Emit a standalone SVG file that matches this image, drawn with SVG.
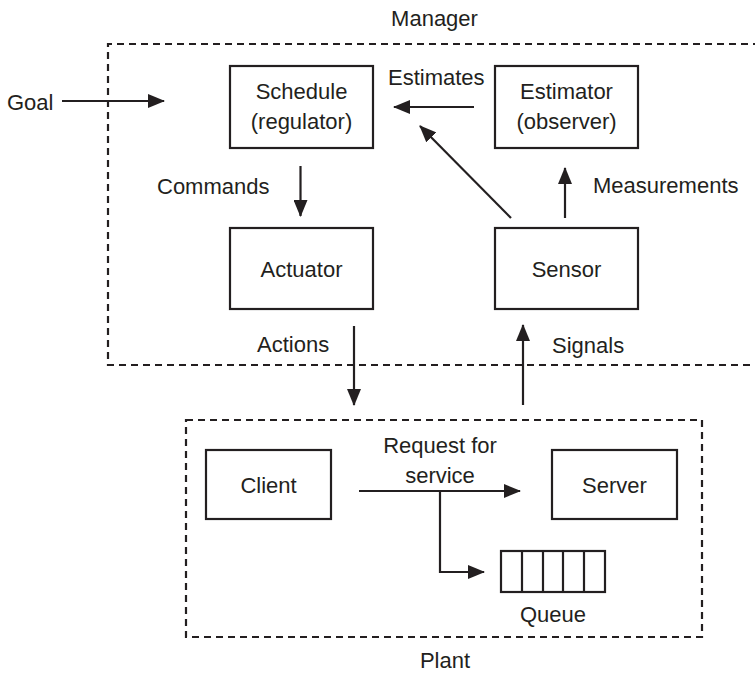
<svg xmlns="http://www.w3.org/2000/svg" width="755" height="675" viewBox="0 0 755 675">
  <style>
    text { font-family: "Liberation Sans", Arial, sans-serif; font-size: 22px; fill: #231f20; }
    .mid { text-anchor: middle; }
    .box { fill: #ffffff; stroke: #231f20; stroke-width: 2.2; }
    .zone { fill: none; stroke: #231f20; stroke-width: 2.2; stroke-dasharray: 7 5; }
    .link { fill: none; stroke: #231f20; stroke-width: 2.2; }
    .arrow { marker-end: url(#head); }
  </style>
  <defs>
    <marker id="head" markerUnits="userSpaceOnUse" markerWidth="17" markerHeight="14" viewBox="0 0 17 14" refX="16" refY="7" orient="auto">
      <path d="M0,0 L17,7 L0,14 Z" fill="#231f20"/>
    </marker>
  </defs>
  <rect width="755" height="675" fill="#ffffff"/>

  <!-- Manager zone (open to the right) -->
  <g id="manager">
    <path class="zone" d="M760,44 H108 V365 H760"/>
    <text x="434.5" y="26" class="mid">Manager</text>
  </g>

  <!-- Plant zone -->
  <g id="plant">
    <rect class="zone" x="186" y="420" width="516" height="217"/>
    <text x="445" y="668" class="mid">Plant</text>
  </g>

  <g id="schedule">
    <rect class="box" x="230" y="66" width="143" height="82"/>
    <text x="301.5" y="99" class="mid">Schedule</text>
    <text x="301.5" y="129" class="mid">(regulator)</text>
  </g>

  <g id="estimator">
    <rect class="box" x="495" y="66" width="143" height="82"/>
    <text x="566.5" y="99" class="mid">Estimator</text>
    <text x="566.5" y="129" class="mid">(observer)</text>
  </g>

  <g id="actuator">
    <rect class="box" x="230" y="228" width="143" height="81"/>
    <text x="301.5" y="277" class="mid">Actuator</text>
  </g>

  <g id="sensor">
    <rect class="box" x="495" y="228" width="143" height="81"/>
    <text x="566.5" y="277" class="mid">Sensor</text>
  </g>

  <g id="client">
    <rect class="box" x="206" y="450" width="125" height="69"/>
    <text x="268.5" y="493" class="mid">Client</text>
  </g>

  <g id="server">
    <rect class="box" x="552" y="450" width="125" height="69"/>
    <text x="614.5" y="493" class="mid">Server</text>
  </g>

  <g id="queue">
    <rect class="box" x="501" y="551" width="104" height="41"/>
    <path class="link" d="M522,551 V592 M543,551 V592 M563,551 V592 M584,551 V592"/>
    <text x="553" y="622" class="mid">Queue</text>
  </g>

  <!-- Connectors and their labels -->
  <g id="connectors">
    <line class="link arrow" x1="62" y1="101" x2="164" y2="101"/>
    <text x="7" y="110">Goal</text>

    <line class="link arrow" x1="300.5" y1="166" x2="300.5" y2="216"/>
    <text x="157" y="194">Commands</text>

    <line class="link arrow" x1="474" y1="107" x2="394" y2="107"/>
    <text x="388" y="85">Estimates</text>

    <line class="link arrow" x1="511" y1="218" x2="420" y2="126"/>

    <line class="link arrow" x1="565" y1="218" x2="565" y2="168"/>
    <text x="593" y="193">Measurements</text>

    <line class="link arrow" x1="354" y1="326" x2="354" y2="405"/>
    <text x="257" y="352">Actions</text>

    <line class="link arrow" x1="523" y1="405" x2="523" y2="325"/>
    <text x="552" y="353">Signals</text>

    <line class="link arrow" x1="359" y1="491" x2="520" y2="491"/>
    <polyline class="link arrow" points="440,491 440,572 484,572"/>
    <text x="440" y="453" class="mid">Request for</text>
    <text x="440" y="483" class="mid">service</text>
  </g>
</svg>
